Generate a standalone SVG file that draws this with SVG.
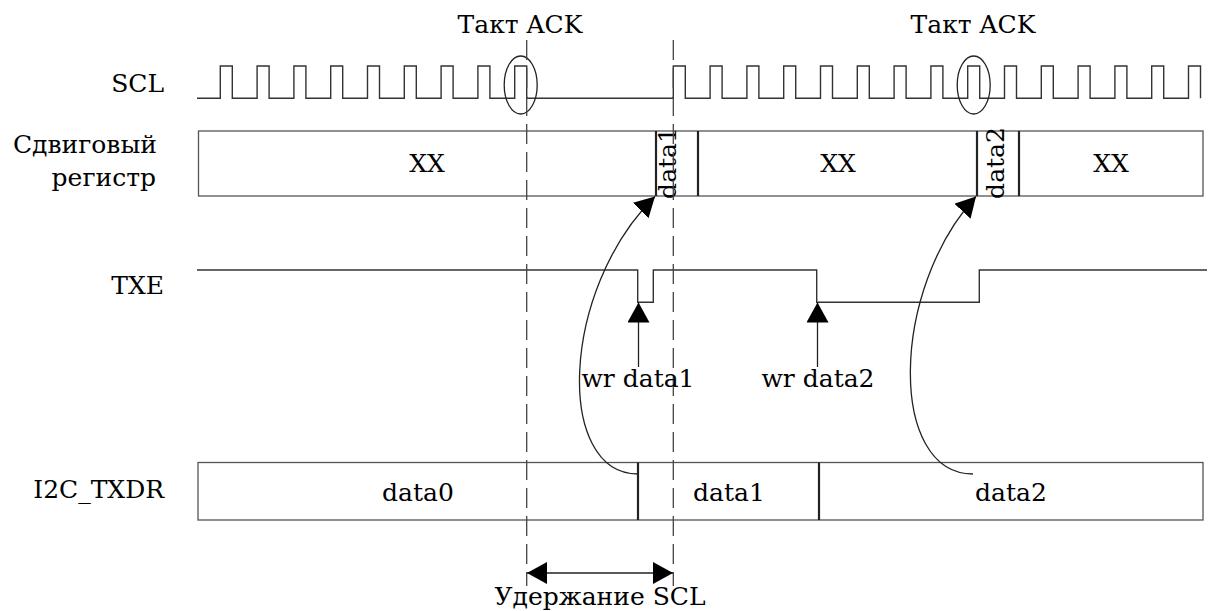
<svg xmlns="http://www.w3.org/2000/svg" width="1209" height="611" viewBox="0 0 1209 611">
<style>
text{font-family:"DejaVu Serif","Liberation Serif",serif;font-size:25px;fill:#000}
.lbl{text-anchor:end}
.mid{text-anchor:middle}
.box{fill:#fff;stroke:#555;stroke-width:1.3}
.div{stroke:#222;stroke-width:2.2;fill:none}
.wave{fill:none;stroke:#333;stroke-width:1.4}
.dash{stroke:#444;stroke-width:1.3;stroke-dasharray:20 8;fill:none}
.conn{fill:none;stroke:#222;stroke-width:1.3}
</style>
<defs>
<marker id="ah" markerUnits="userSpaceOnUse" markerWidth="22" markerHeight="22" refX="20" refY="11" orient="auto-start-reverse" viewBox="0 0 22 22">
<path d="M0,0 L20,11 L0,22 Z" fill="#000"/>
</marker>
</defs>
<rect width="1209" height="611" fill="#fff"/>

<g id="labels">
<text class="lbl" x="164" y="92">SCL</text>
<text class="lbl" x="157" y="153">Сдвиговый</text>
<text class="lbl" x="156" y="186">регистр</text>
<text class="lbl" x="164" y="294">TXE</text>
<text class="lbl" x="164" y="498">I2C_TXDR</text>
</g>

<g id="scl">
<path class="wave" d="M197,98.3 H220.3 V66 H232.3 V98.3 H257.1 V66 H269.1 V98.3 H293.9 V66 H305.9 V98.3 H330.7 V66 H342.7 V98.3 H367.5 V66 H379.5 V98.3 H404.3 V66 H416.3 V98.3 H441.1 V66 H453.1 V98.3 H477.9 V66 H489.9 V98.3 H514.7 V66 H526.7 V98.3 H673.3 V66 H685.3 V98.3 H710.1 V66 H722.1 V98.3 H746.9 V66 H758.9 V98.3 H783.7 V66 H795.7 V98.3 H820.5 V66 H832.5 V98.3 H857.3 V66 H869.3 V98.3 H894.1 V66 H906.1 V98.3 H930.9 V66 H942.9 V98.3 H967.7 V66 H979.7 V98.3 H1004.5 V66 H1016.5 V98.3 H1041.3 V66 H1053.3 V98.3 H1078.1 V66 H1090.1 V98.3 H1114.9 V66 H1126.9 V98.3 H1151.7 V66 H1163.7 V98.3 H1188.5 V66 H1200.5 V98.3"/>
</g>

<g id="ack1">
<ellipse cx="520.7" cy="85" rx="16.5" ry="29" fill="none" stroke="#222" stroke-width="1.3"/>
<text class="mid" x="520" y="33">Такт ACK</text>
</g>
<g id="ack2">
<ellipse cx="973.7" cy="85" rx="16.5" ry="29" fill="none" stroke="#222" stroke-width="1.3"/>
<text class="mid" x="973" y="33">Такт ACK</text>
</g>

<g id="shiftreg">
<rect class="box" x="198.5" y="131" width="1004.5" height="65"/>
<line class="div" x1="656" y1="131" x2="656" y2="196"/>
<line class="div" x1="698" y1="131" x2="698" y2="196"/>
<line class="div" x1="977" y1="131" x2="977" y2="196"/>
<line class="div" x1="1019" y1="131" x2="1019" y2="196"/>
<text class="mid" x="427" y="172">XX</text>
<text class="mid" x="838" y="172">XX</text>
<text class="mid" x="1111" y="172">XX</text>
<text class="mid" transform="translate(676,163) rotate(-90)">data1</text>
<text class="mid" transform="translate(1004,163) rotate(-90)">data2</text>
</g>

<g id="txe">
<path class="wave" d="M197,270 H637.7 V302.3 H653.3 V270 H816.7 V302.3 H979.3 V270 H1207"/>
</g>

<g id="i2c_txdr">
<rect class="box" x="198" y="462.5" width="1005" height="57.5"/>
<line class="div" x1="638" y1="462.5" x2="638" y2="520"/>
<line class="div" x1="819" y1="462.5" x2="819" y2="520"/>
<text class="mid" x="418" y="501">data0</text>
<text class="mid" x="729" y="501">data1</text>
<text class="mid" x="1011" y="501">data2</text>
</g>

<g id="dashed">
<line class="dash" x1="526.7" y1="40" x2="526.7" y2="586"/>
<line class="dash" x1="673.3" y1="40" x2="673.3" y2="586"/>
</g>

<g id="connectors">
<path class="conn" d="M638,474 C555,474 560,290 655,196.5" marker-end="url(#ah)"/>
<path class="conn" d="M973,474 C888,474 890,290 976,196.5" marker-end="url(#ah)"/>
<line class="conn" x1="638.5" y1="367" x2="638.5" y2="302.5" marker-end="url(#ah)"/>
<line class="conn" x1="817.5" y1="367" x2="817.5" y2="302.5" marker-end="url(#ah)"/>
<line class="conn" x1="527" y1="573" x2="673" y2="573" marker-start="url(#ah)" marker-end="url(#ah)"/>
</g>

<g id="annotations">
<text class="mid" x="638" y="387">wr data1</text>
<text class="mid" x="818" y="387">wr data2</text>
<text class="mid" x="600" y="605">Удержание SCL</text>
</g>
</svg>
